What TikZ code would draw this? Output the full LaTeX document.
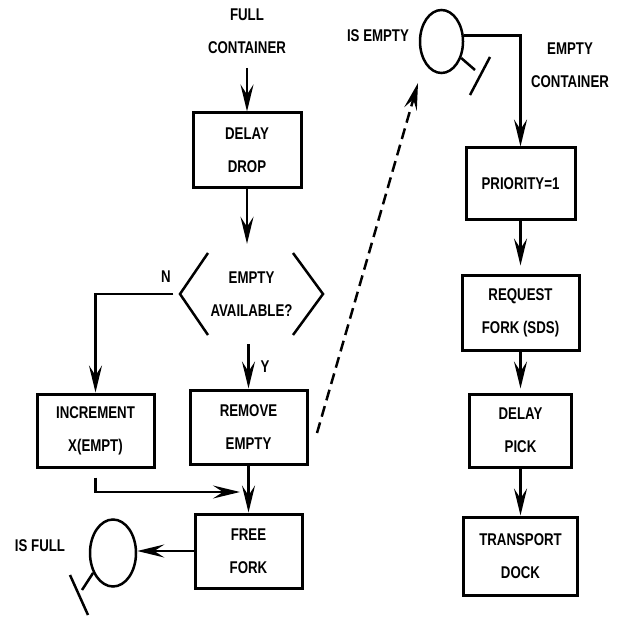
\documentclass[tikz,border=0pt]{standalone}
\usepackage{fontspec}
\setmainfont{Liberation Sans}[FakeStretch=0.78]
\usetikzlibrary{arrows.meta,shapes.geometric}
\tikzset{
  txt/.style={font=\bfseries\fontsize{17}{33}\selectfont, align=center, inner sep=0pt},
  box/.style={txt, draw, line width=3pt},
  blob/.style={draw, ellipse, line width=2.5pt, inner sep=0pt},
  arr/.style={line width=2.5pt, -{Stealth[length=27pt,width=13pt,inset=10pt]}},
  dasharr/.style={arr, dash pattern=on 11pt off 6pt},
  ln/.style={line width=2.5pt},
}
\begin{document}
\begin{tikzpicture}[x=1pt,y=-1pt]
\useasboundingbox (0,0) rectangle (616,617);
\fill[white] (0,0) rectangle (616,617);
% left column
\node[txt] (full) at (247,31) {FULL\\CONTAINER};
\node[box, minimum width=108pt, minimum height=75pt] (drop) at (247,150.5) {DELAY\\DROP};
\node[txt, minimum width=150pt, minimum height=100pt] (dec) at (251.5,294) {EMPTY\\AVAILABLE?};
\draw[ln] (208,253) -- (180,294) -- (208,335);
\draw[ln] (293,253) -- (323,294) -- (293,335);
\node[txt] (n) at (166,277) {N};
\node[txt] (y) at (265,367) {Y};
\node[box, minimum width=117pt, minimum height=73pt] (inc) at (95.5,430.5) {INCREMENT\\X(EMPT)};
\node[box, minimum width=117pt, minimum height=74pt] (rem) at (248.5,427) {REMOVE\\EMPTY};
\node[box, minimum width=107pt, minimum height=74pt] (free) at (248.5,551) {FREE\\FORK};
\node[blob, minimum width=46pt, minimum height=67pt] (isfull) at (113,553) {};
\node[txt] (isfulllbl) at (40,546) {IS FULL};
\coordinate (ft) at (82,590);
\draw[ln] (isfull.225) -- (ft);
\draw[ln] (70,575) -- (88,615);
% right column
\node[blob, minimum width=43pt, minimum height=63pt] (isempty) at (441.5,41.5) {};
\node[txt] (isemptylbl) at (378,36) {IS EMPTY};
\coordinate (et) at (475,70);
\draw[ln] (isempty.-40) -- (et);
\draw[ln] (490,57) -- (470,95);
\node[txt] (ec) at (570,65) {EMPTY\\CONTAINER};
\node[box, minimum width=109pt, minimum height=72pt] (pri) at (520.5,184) {PRIORITY=1};
\node[box, minimum width=117pt, minimum height=75pt] (req) at (520.5,312.5) {REQUEST\\FORK (SDS)};
\node[box, minimum width=102pt, minimum height=73pt] (pick) at (520.5,430.5) {DELAY\\PICK};
\node[box, minimum width=114pt, minimum height=78pt] (trans) at (520.5,556) {TRANSPORT\\DOCK};
% connectors
\draw[arr] (full.south |- 0,68) -- (drop.north);
\draw[arr] (drop.south) -- (drop.south |- dec.north);
\draw[arr] ([xshift=-3pt]dec.west) -| (inc.north);
\draw[arr] (rem.north |- dec.south) -- (rem.north);
\draw[arr] (rem.south) -- (free.north);
\coordinate (j) at (240,492);
\draw[arr, shorten <=9pt] (inc.south) |- (j);
\draw[arr] (free.west) -- (free.west -| isfull.east);
\coordinate (ds) at (317,433);
\coordinate (de) at (418,83);
\draw[dasharr] (ds) -- (de);
\draw[arr] (isempty.15) -| (pri.north);
\draw[arr] (pri.south) -- ([yshift=8pt]req.north);
\draw[arr] (req.south) -- ([yshift=4pt]pick.north);
\draw[arr] (pick.south) -- (trans.north);
\end{tikzpicture}
\end{document}
